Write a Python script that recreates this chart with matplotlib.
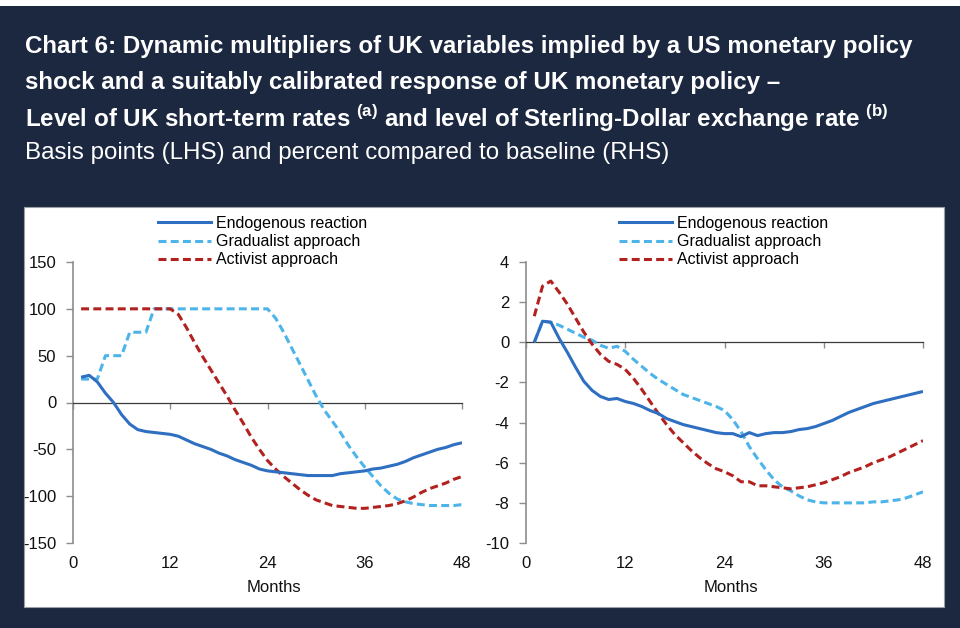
import matplotlib
matplotlib.use("Agg")
import matplotlib.pyplot as plt
from matplotlib.patches import Rectangle
from matplotlib.lines import Line2D
from matplotlib.transforms import blended_transform_factory

plt.rcParams["font.family"] = ["Liberation Sans", "DejaVu Sans"]
plt.rcParams["mathtext.fontset"] = "custom"
plt.rcParams["mathtext.rm"] = "Liberation Sans"
plt.rcParams["mathtext.bf"] = "Liberation Sans:bold"

NAVY = "#1b2840"
C_ENDO = "#2f6fc1"
C_GRAD = "#4db4ea"
C_ACT = "#b3211f"

months = list(range(1, 49))
series_names = ["Endogenous reaction", "Gradualist approach", "Activist approach"]
x_ticks = [0, 12, 24, 36, 48]

# LHS: UK short-term rates, basis points
rates_endo = [27, 29, 22, 10, 0, -13, -23, -29, -31, -32, -33, -34, -36, -40, -44, -47,
              -50, -54, -57, -61, -64, -67, -71, -73, -74, -75, -76, -77, -78, -78, -78, -78,
              -76, -75, -74, -73, -71, -70, -68, -66, -63, -59, -56, -53, -50, -48, -45, -43]
rates_grad = [25, 25, 25, 50, 50, 50, 75, 75, 75, 100, 100, 100, 100, 100, 100, 100,
              100, 100, 100, 100, 100, 100, 100, 100, 90, 75, 58, 41, 24, 7, -8, -20,
              -32, -46, -58, -69, -79, -89, -97, -103, -106, -108, -109, -110, -110, -110, -110, -109]
rates_act = [100, 100, 100, 100, 100, 100, 100, 100, 100, 100, 100, 100, 94, 80, 64, 49,
             35, 21, 7, -8, -22, -37, -50, -62, -71, -79, -86, -93, -99, -104, -107, -110,
             -111, -112, -113, -113, -112, -111, -110, -108, -105, -101, -96, -92, -89, -86, -82, -79]

# RHS: Sterling-Dollar exchange rate, percent vs baseline
fx_endo = [0, 1.05, 1.0, 0.2, -0.5, -1.25, -1.95, -2.4, -2.7, -2.85, -2.8, -2.95, -3.05, -3.2, -3.4, -3.55,
           -3.8, -3.95, -4.1, -4.2, -4.3, -4.4, -4.5, -4.55, -4.55, -4.7, -4.5, -4.65, -4.55, -4.5, -4.5, -4.45,
           -4.35, -4.3, -4.2, -4.05, -3.9, -3.7, -3.5, -3.35, -3.2, -3.05, -2.95, -2.85, -2.75, -2.65, -2.55, -2.45]
fx_grad = [0, 1.05, 1.0, 0.85, 0.65, 0.45, 0.25, 0.1, -0.15, -0.3, -0.2, -0.45, -0.85, -1.2, -1.55, -1.85,
           -2.1, -2.35, -2.6, -2.75, -2.9, -3.05, -3.2, -3.4, -3.85, -4.45, -5.2, -5.8, -6.35, -6.85, -7.2, -7.4,
           -7.65, -7.85, -7.95, -8.0, -8.0, -8.0, -8.0, -8.0, -8.0, -7.95, -7.95, -7.9, -7.85, -7.75, -7.6, -7.45]
fx_act = [1.3, 2.8, 3.05, 2.5, 1.9, 1.2, 0.5, -0.1, -0.6, -0.95, -1.1, -1.35, -1.8, -2.35, -2.95, -3.55,
          -4.1, -4.6, -5.0, -5.4, -5.75, -6.05, -6.3, -6.45, -6.65, -6.95, -6.95, -7.15, -7.15, -7.2, -7.25, -7.3,
          -7.25, -7.2, -7.1, -7.0, -6.85, -6.7, -6.5, -6.35, -6.2, -6.0, -5.85, -5.7, -5.5, -5.3, -5.1, -4.9]

left_yticks = [-150, -100, -50, 0, 50, 100, 150]
right_yticks = [-10, -8, -6, -4, -2, 0, 2, 4]

W, H = 960, 628
fig = plt.figure(figsize=(9.6, 6.28), dpi=100, facecolor=NAVY)

# white strip at top and white chart panel (behind the axes)
fig.patches.append(Rectangle((0, 1 - 6 / H), 1, 6 / H, transform=fig.transFigure,
                             facecolor="white", edgecolor="none", zorder=-5))
fig.patches.append(Rectangle((24 / W, 1 - 607 / H), 920 / W, 400 / H, transform=fig.transFigure,
                             facecolor="white", edgecolor="#9a9fa8", lw=0.8, zorder=-5))

title_lines = [
    "Chart 6: Dynamic multipliers of UK variables implied by a US monetary policy",
    "shock and a suitably calibrated response of UK monetary policy \u2013",
    r"Level of UK short-term rates ${}^{\mathbf{(a)}}$ and level of Sterling-Dollar exchange rate ${}^{\mathbf{(b)}}$",
]
title_y = [47, 83, 118]
for line, y in zip(title_lines, title_y):
    fig.text(25 / W, 1 - y / H, line, color="white", fontsize=17.4,
             fontweight="bold", va="center", ha="left")
fig.text(25 / W, 1 - 153 / H, "Basis points (LHS) and percent compared to baseline (RHS)",
         color="white", fontsize=17.4, va="center", ha="left")


def draw_panel(rect, endo, grad, act, yticks, legend_x):
    ax = fig.add_axes(rect)
    ax.set_facecolor("none")
    ax.plot(months, endo, color=C_ENDO, lw=2.2, solid_capstyle="butt", zorder=4)
    ax.plot(months, grad, color=C_GRAD, lw=2.2, dashes=(2.6, 1.4), zorder=3)
    ax.plot(months, act, color=C_ACT, lw=2.2, dashes=(2.6, 1.4), zorder=3)
    ax.set_xlim(x_ticks[0], x_ticks[-1])
    ax.set_ylim(yticks[0], yticks[-1])
    for s in ["top", "right"]:
        ax.spines[s].set_visible(False)
    ax.spines["left"].set_color("#8c8c8c")
    ax.spines["left"].set_linewidth(1.2)
    ax.spines["bottom"].set_position(("data", 0))
    ax.spines["bottom"].set_color("#3a3a3a")
    ax.spines["bottom"].set_linewidth(0.9)
    ax.set_yticks(yticks)
    ax.set_yticklabels([str(v) for v in yticks])
    ax.tick_params(axis="y", direction="out", length=5, width=1, color="#8c8c8c",
                   labelsize=12, pad=7, labelcolor="#111111")
    ax.set_xticks(x_ticks)
    ax.tick_params(axis="x", direction="out", length=4, width=1, color="#8c8c8c",
                   labelbottom=False)
    trans = blended_transform_factory(ax.transData, ax.transAxes)
    for t in x_ticks:
        ax.text(t, -0.072, str(t), transform=trans, ha="center", va="center",
                fontsize=12, color="#111111")
    ax.text(0.517, -0.157, "Months", transform=ax.transAxes, ha="center", va="center",
            fontsize=12, color="#111111")
    handles = [
        Line2D([], [], color=C_ENDO, lw=2.2),
        Line2D([], [], color=C_GRAD, lw=2.2, dashes=(2.6, 1.4)),
        Line2D([], [], color=C_ACT, lw=2.2, dashes=(2.6, 1.4)),
    ]
    fig.legend(handles, series_names, loc="upper left",
               bbox_to_anchor=(legend_x / W, 1 - 216 / H), frameon=False, fontsize=11.5,
               handlelength=3.3, handletextpad=0.35, labelspacing=0.2, borderpad=0,
               borderaxespad=0)
    return ax


draw_panel([73 / W, 1 - 543 / H, 389 / W, 281 / H], rates_endo, rates_grad, rates_act,
           left_yticks, 158)
draw_panel([526 / W, 1 - 543 / H, 397 / W, 281 / H], fx_endo, fx_grad, fx_act,
           right_yticks, 619)

fig.savefig("out.png", dpi=100, facecolor=NAVY)
